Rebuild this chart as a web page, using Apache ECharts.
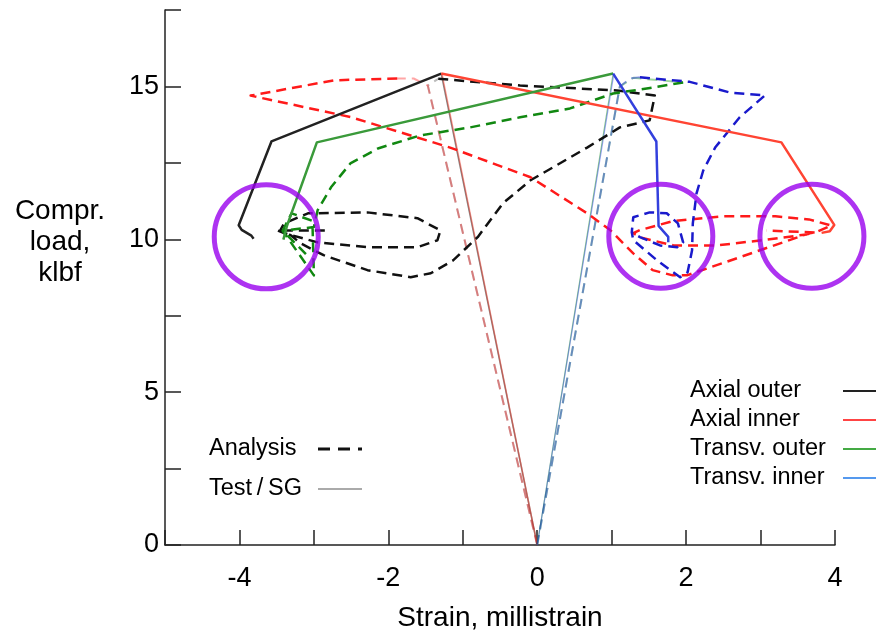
<!DOCTYPE html>
<html>
<head>
<meta charset="utf-8">
<script src="https://cdn.jsdelivr.net/npm/echarts@6/dist/echarts.min.js"></script>
<style>
html,body{margin:0;padding:0;background:#fff;}
#chart{width:876px;height:633px;}
</style>
</head>
<body>
<div id="chart"></div>
<script>
// ---- Data (strain in millistrain, load in klbf) ----
var xTicks = [-4, -2, 0, 2, 4];
var yTicks = [0, 5, 10, 15];

// Test / strain-gauge curves: loading ramp (drawn faint) and post-peak path
var testAxialOuterLoad  = [[0, 0], [-1.29, 15.42]];
var testAxialOuter      = [[-1.29, 15.42], [-3.57, 13.2], [-4.01, 10.46], [-3.97, 10.31], [-3.84, 10.12], [-3.81, 10.02]];
var testAxialInnerLoad  = [[0, 0], [-1.28, 15.42]];
var testAxialInner      = [[-1.29, 15.42], [3.28, 13.17], [3.99, 10.47], [3.93, 10.26], [3.82, 10.21]];
var testTransvOuterLoad = [[0, 0], [1.02, 15.42]];
var testTransvOuter     = [[1.02, 15.42], [-2.96, 13.17], [-3.36, 10.45], [-3.41, 9.99]];
var testTransvInnerLoad = [[0, 0], [1.03, 15.42]];
var testTransvInner     = [[1.02, 15.42], [1.6, 13.2], [1.63, 10.44], [1.76, 10.08], [1.76, 9.9]];

// Analysis curves
var anaAxialOuterLoad = [[0, 0], [-1.47, 15.03], [-1.33, 15.25]];
var anaAxialOuter = [[-1.33, 15.25], [-0.23, 15.03], [1.07, 14.87], [1.58, 14.7], [1.51, 13.89], [1.11, 13.66],
  [0.67, 13.0], [0.21, 12.35], [-0.09, 11.93], [-0.46, 11.18], [-0.8, 10.07], [-1.13, 9.31], [-1.43, 8.89],
  [-1.7, 8.76], [-2.28, 8.99], [-2.87, 9.48], [-3.18, 9.87], [-3.31, 10.13], [-3.45, 10.3], [-3.4, 10.52],
  [-3.08, 10.85], [-2.28, 10.88], [-1.61, 10.69], [-1.3, 10.29], [-1.34, 9.97], [-1.61, 9.74], [-2.28, 9.74],
  [-2.95, 9.9], [-3.4, 10.2], [-3.49, 10.29], [-2.82, 10.29]];
var anaAxialInnerLoad = [[0, 0], [-1.47, 15.03], [-1.66, 15.26], [-1.88, 15.26]];
var anaAxialInner = [[-1.88, 15.26], [-2.73, 15.2], [-3.85, 14.7], [-2.51, 14.0], [-1.17, 13.0], [-0.09, 12.03],
  [0.67, 10.85], [0.98, 10.3], [1.29, 9.54], [1.55, 8.99], [1.82, 8.82], [2.01, 8.82], [2.49, 9.22], [3.66, 10.2],
  [3.73, 10.22], [3.95, 10.45], [3.65, 10.65], [3.2, 10.75], [2.48, 10.75], [1.83, 10.6], [1.38, 10.3],
  [1.29, 10.2], [1.4, 10.05], [1.83, 9.8], [2.41, 9.8], [3.03, 9.97], [3.62, 10.16], [3.73, 10.22], [3.08, 10.29]];
var anaTransvOuterLoad = [[0, 0], [1.11, 15.0], [1.29, 15.28], [1.96, 15.13]];
var anaTransvOuter = [[1.96, 15.13], [1.47, 14.93], [1.02, 14.77], [0.44, 14.28], [-0.23, 13.99], [-0.9, 13.66],
  [-1.57, 13.4], [-2.14, 12.97], [-2.51, 12.48], [-2.77, 11.7], [-2.95, 10.95], [-3.0, 10.4], [-3.42, 10.28],
  [-3.0, 8.82], [-3.02, 10.6], [-3.3, 10.85], [-3.42, 10.28], [-3.1, 9.5]];
var anaTransvInnerLoad = [[0, 0], [1.11, 15.0], [1.25, 15.26], [1.38, 15.3]];
var anaTransvInner = [[1.38, 15.3], [2.05, 15.15], [2.59, 14.8], [3.06, 14.71], [2.72, 13.99], [2.39, 13.0],
  [2.23, 12.25], [2.14, 11.5], [2.09, 10.52], [2.08, 9.64], [2.02, 8.92], [1.92, 8.76], [1.61, 9.31],
  [1.29, 9.97], [1.27, 10.23], [1.29, 10.72], [1.51, 10.88], [1.74, 10.85], [1.89, 10.52], [1.96, 9.9],
  [1.88, 9.74], [1.65, 9.8], [1.38, 10.07], [1.27, 10.23]];

// Highlight circles (centres)
var circleCentres = [[-3.64, 10.08], [1.66, 10.1], [3.69, 10.1]];

var legendLeft = ['Analysis', 'Test\u2009/\u2009SG'];
var legendRight = ['Axial outer', 'Axial inner', 'Transv. outer', 'Transv. inner'];

// ---- Chart ----
var FONT = 'Liberation Sans, Arial, Helvetica, sans-serif';
var DASH = [10, 6];

function line(name, data, color, width, dashed, opacity, z) {
  return {
    name: name, type: 'line', data: data, symbol: 'none', smooth: false,
    animation: false, silent: true, z: z || 2,
    lineStyle: { color: color, width: width, type: dashed ? DASH : 'solid', opacity: opacity == null ? 1 : opacity, join: 'round', cap: 'butt' }
  };
}
function legendSeries(name, color) {
  return { name: name, type: 'line', data: [], symbol: 'none', itemStyle: { color: color }, lineStyle: { color: color, width: 2 } };
}

var series = [
  // faint loading ramps
  line('tAOl', testAxialOuterLoad, '#333333', 1.5, false, 0.6, 1),
  line('tAIl', testAxialInnerLoad, '#ff3322', 1.5, false, 0.45, 1),
  line('tTOl', testTransvOuterLoad, '#33a033', 1.2, false, 0.55, 1),
  line('tTIl', testTransvInnerLoad, '#3344ee', 1.2, false, 0.45, 1),
  line('aAOl', anaAxialOuterLoad, '#555555', 2, true, 0.4, 1),
  line('aAIl', anaAxialInnerLoad, '#ff2020', 2, true, 0.4, 1),
  line('aTOl', anaTransvOuterLoad, '#119911', 2, true, 0.4, 1),
  line('aTIl', anaTransvInnerLoad, '#2233dd', 2, true, 0.45, 1),
  // post-peak paths
  line('aAO', anaAxialOuter, '#111111', 2.5, true, 1, 3),
  line('aAI', anaAxialInner, '#ff1a1a', 2.5, true, 1, 3),
  line('aTO', anaTransvOuter, '#118811', 2.5, true, 1, 3),
  line('aTI', anaTransvInner, '#1a1acc', 2.5, true, 1, 3),
  line('tAO', testAxialOuter, '#222222', 2.5, false, 1, 4),
  line('tAI', testAxialInner, '#ff4433', 2.5, false, 1, 4),
  line('tTO', testTransvOuter, '#3a9a3a', 2.5, false, 1, 4),
  line('tTI', testTransvInner, '#3340dd', 2.5, false, 1, 4),
  {
    name: 'circles', type: 'scatter', data: circleCentres, symbol: 'circle', symbolSize: 104,
    clip: false, silent: true, animation: false, z: 6,
    itemStyle: { color: 'rgba(0,0,0,0)', borderColor: '#9900ee', borderWidth: 5 }
  },
  // legend entries
  legendSeries(legendLeft[0], '#111111'),
  legendSeries(legendLeft[1], '#aaaaaa'),
  legendSeries(legendRight[0], '#222222'),
  legendSeries(legendRight[1], '#ff4444'),
  legendSeries(legendRight[2], '#44aa44'),
  legendSeries(legendRight[3], '#5599ee')
];

var DASH_ICON = 'path://M0,0h12v3h-12z M20,0h12v3h-12z M40,0h4v3h-4z';
var LINE_ICON = 'path://M0,0h40v2h-40z';

var chart = echarts.init(document.getElementById('chart'), null, { renderer: 'canvas' });
chart.setOption({
  backgroundColor: '#ffffff',
  animation: false,
  grid: { left: 165, right: 41, top: 10, bottom: 88, containLabel: false, outerBoundsMode: 'none' },
  xAxis: {
    type: 'value', min: -5, max: 4, interval: 1,
    name: 'Strain, millistrain', nameLocation: 'middle', nameGap: 59,
    nameTextStyle: { fontFamily: FONT, fontSize: 28, color: '#000' },
    axisLine: { show: true, onZero: false, lineStyle: { color: '#222', width: 1.5 } },
    axisTick: { show: true, inside: true, length: 15, lineStyle: { color: '#222', width: 1.5 } },
    axisLabel: {
      fontFamily: FONT, fontSize: 27, color: '#000', margin: 20,
      formatter: function (v) { return xTicks.indexOf(v) >= 0 ? String(v) : ''; }
    },
    splitLine: { show: false }
  },
  yAxis: {
    type: 'value', min: 0, max: 17.5, interval: 2.5,
    axisLine: { show: true, onZero: false, lineStyle: { color: '#222', width: 1.5 } },
    axisTick: { show: true, inside: true, length: 16, lineStyle: { color: '#222', width: 1.5 } },
    axisLabel: {
      fontFamily: FONT, fontSize: 27, color: '#000', margin: 6, padding: [4, 0, 0, 0],
      formatter: function (v) { return yTicks.indexOf(v) >= 0 ? String(v) : ''; }
    },
    splitLine: { show: false }
  },
  legend: [
    {
      data: [
        { name: legendLeft[0], icon: DASH_ICON },
        { name: legendLeft[1], icon: LINE_ICON }
      ],
      orient: 'vertical', left: 209, top: 437, align: 'right', padding: 0,
      itemWidth: 44, itemHeight: 3, itemGap: 16, selectedMode: false,
      formatter: '{a|{name}}',
      textStyle: { fontSize: 23.5, rich: { a: { width: 104, align: 'left', fontFamily: FONT, fontSize: 23.5, color: '#000' } } }
    },
    {
      data: legendRight.map(function (n) { return { name: n, icon: LINE_ICON }; }),
      orient: 'vertical', left: 690, top: 379, align: 'right', padding: 0,
      itemWidth: 40, itemHeight: 2, itemGap: 5, selectedMode: false,
      formatter: '{a|{name}}',
      textStyle: { fontSize: 23.5, rich: { a: { width: 148, align: 'left', fontFamily: FONT, fontSize: 23.5, color: '#000' } } }
    }
  ],
  graphic: [
    {
      type: 'text', x: 60, y: 242, silent: true,
      style: { text: 'Compr.\nload,\nklbf', align: 'center', verticalAlign: 'middle', fontFamily: FONT, fontSize: 28, lineHeight: 31, fill: '#000' }
    }
  ],
  series: series
});
</script>
</body>
</html>
